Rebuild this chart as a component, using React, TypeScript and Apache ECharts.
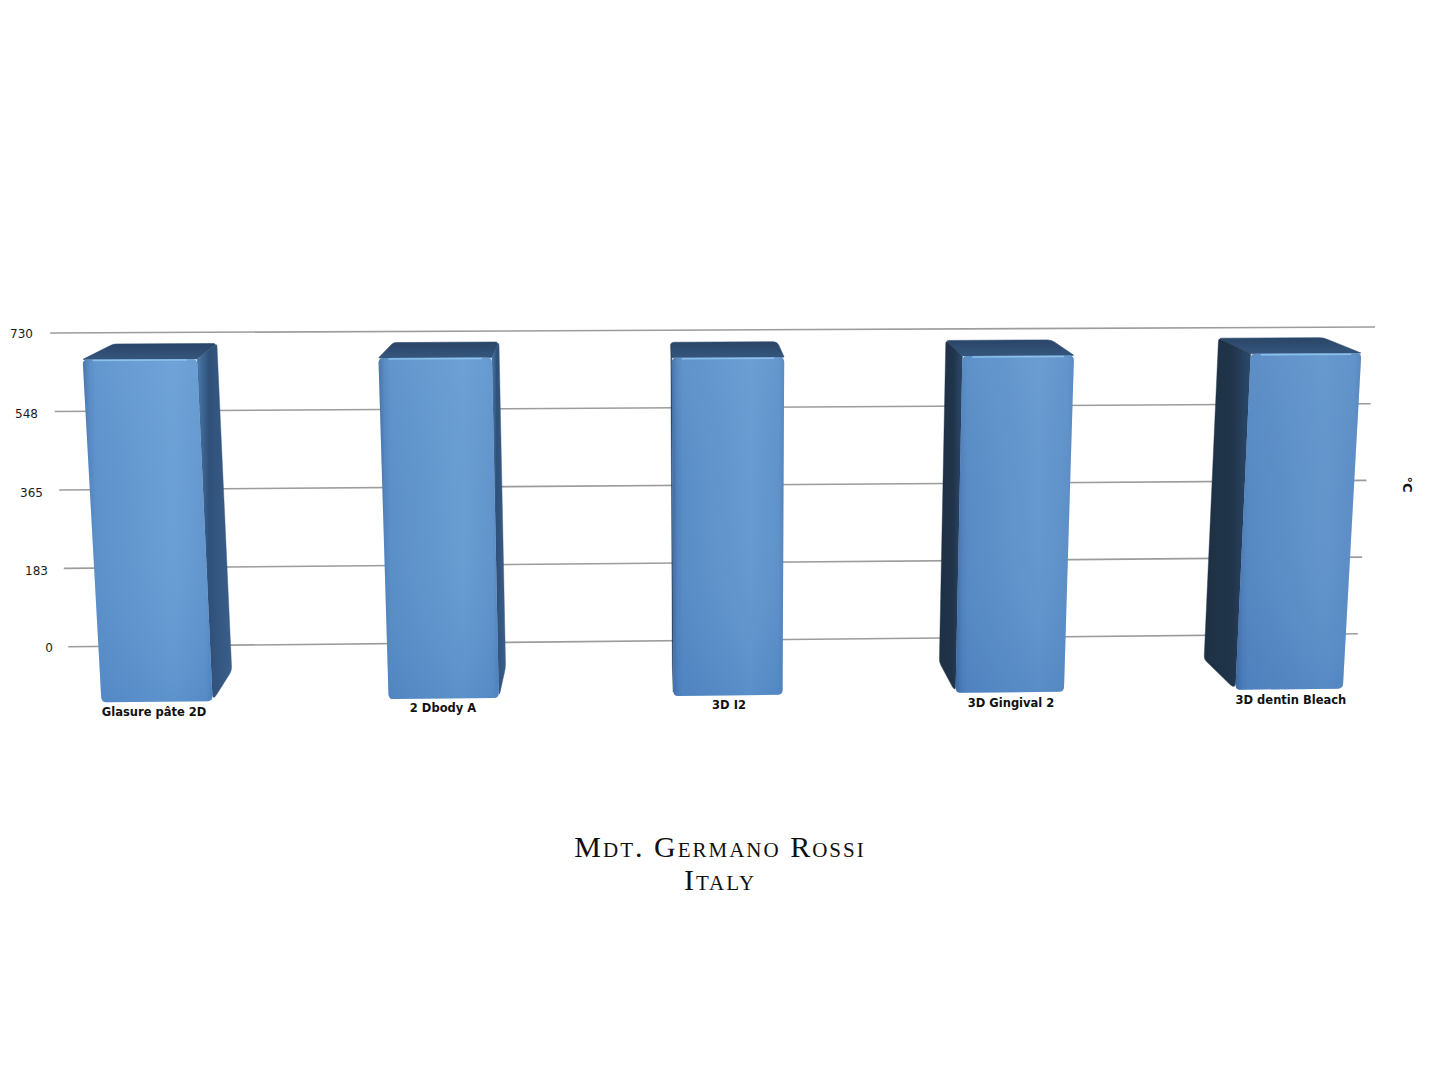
import React, { useEffect, useRef } from "react";
import * as echarts from "echarts";

const CATEGORIES = ["Glasure pâte 2D", "2 Dbody A", "3D I2", "3D Gingival 2", "3D dentin Bleach"];
const VALUES = [668, 668, 665, 666, 668];
const FLOOR_VALUE = -130;
const TICK_VALUES = [0, 182.5, 365, 547.5, 730];
const AXIS_NAME = "°C";
const TITLE_LINES = ["Mdt. Germano Rossi", "Italy"];

// Small per-label nudges: the reference's labels follow its tilted perspective.
const LABEL_SHIFT_X = [0, 4.7, 6.5, 4.3, 0];
const LABEL_SHIFT_Y = [13, 9, 6, 4, 1];
const TICK_SHIFT_Y = [2, 4, 6, 4, 2];

const GRID = { left: 12, right: 7, top: 333, height: 314 };

// Perspective of the picture: maps a flat plot point to the screen.
function project(T: number, Yf: number, cx: number): number[] {
  const a = 291.5 - ((Yf - 360) * 8.5) / 343;
  const sx = cx + 5.5 + (a * T) / (1 + 0.0043 * T);
  const slope = 0.0045 + (0.0056 * (Yf - 333)) / 314;
  return [sx, Yf - (sx - 50) * slope];
}
function toBack(p: number[], Yf: number, k = 1): number[] {
  const dx = -0.054 * (p[0] - 655) * k;
  const dy = -15.5 - (15 * (Yf - 360)) / 343;
  return [p[0] + dx, p[1] + dy];
}
function roundedPath(pts: number[][], radii: number[]): string {
  const n = pts.length;
  let d = "";
  for (let i = 0; i < n; i++) {
    const p = pts[i];
    const prev = pts[(i + n - 1) % n];
    const next = pts[(i + 1) % n];
    const r = radii[i];
    const l1 = Math.hypot(prev[0] - p[0], prev[1] - p[1]) || 1;
    const l2 = Math.hypot(next[0] - p[0], next[1] - p[1]) || 1;
    const a = [p[0] + ((prev[0] - p[0]) * r) / l1, p[1] + ((prev[1] - p[1]) * r) / l1];
    const b = [p[0] + ((next[0] - p[0]) * r) / l2, p[1] + ((next[1] - p[1]) * r) / l2];
    d += `${i === 0 ? "M" : "L"}${a[0]} ${a[1]}Q${p[0]} ${p[1]} ${b[0]} ${b[1]}`;
  }
  return d + "Z";
}
const H = (stops: [number, string][]) =>
  new echarts.graphic.LinearGradient(0, 0, 1, 0, stops.map(([offset, color]) => ({ offset, color })));
const V = (stops: [number, string][]) =>
  new echarts.graphic.LinearGradient(0, 0, 0, 1, stops.map(([offset, color]) => ({ offset, color })));

function renderGridLine(_: any, api: any) {
  const cx = api.coord([2, 0])[0];
  const Yf = api.coord([0, api.value(1)])[1];
  const a = project(-2.297, Yf, cx);
  const b = project(2.236, Yf, cx);
  return {
    type: "line",
    shape: { x1: a[0], y1: a[1], x2: b[0], y2: b[1] },
    style: { stroke: "#9c9c9c", lineWidth: 1.6 },
  };
}

function renderBar(_: any, api: any) {
  const i = api.value(0);
  const band = api.size([1, 0])[0];
  const cx = api.coord([2, 0])[0];
  const top = api.coord([i, api.value(1)]);
  const bottom = api.coord([i, FLOOR_VALUE]);
  const T = (top[0] - cx) / band;
  const hw = 0.193;
  const fTL = project(T - hw, top[1], cx);
  const fTR = project(T + hw, top[1], cx);
  const fBR = project(T + hw, bottom[1], cx);
  const fBL = project(T - hw, bottom[1], cx);
  const rightK = T < 0 ? 0.8 : 1;
  const bTL = toBack(fTL, top[1]);
  const bTR = toBack(fTR, top[1], rightK);
  const bBR = toBack(fBR, bottom[1], rightK);
  const bBL = toBack(fBL, bottom[1]);
  const children: any[] = [];

  children.push({
    type: "path",
    shape: { pathData: roundedPath([fTL, bTL, bTR, fTR], [1, 3, 4, 1]) },
    style: { fill: V([[0, "#2a4567"], [1, "#35567d"]]), stroke: "#2e4c70", lineWidth: 0.6 },
  });
  if (bTL[0] < fTL[0]) {
    children.push({
      type: "path",
      shape: { pathData: roundedPath([bTL, fTL, fBL, bBL], [3, 0, 8, 3]) },
      style: { fill: H([[0, "#1e3043"], [0.6, "#20344a"], [1, "#2c4a6d"]]), stroke: "#20344a", lineWidth: 0.4 },
    });
  }
  if (bTR[0] > fTR[0]) {
    children.push({
      type: "path",
      shape: { pathData: roundedPath([fTR, bTR, bBR, fBR], [0, 3, 4, 8]) },
      style: { fill: H([[0, "#487aab"], [0.35, "#2f5078"], [1, "#3a5f8b"]]), stroke: "#34597f", lineWidth: 0.4 },
    });
  }
  const frontPath = roundedPath([fTL, fTR, fBR, fBL], [5, 5, 5, 5]);
  children.push({
    type: "path",
    shape: { pathData: frontPath },
    style: {
      fill: H([
        [0, "#3c6799"],
        [0.05, "#5284c0"],
        [0.1, "#5b90c9"],
        [0.7, "#6ba0d5"],
        [0.95, "#6296cd"],
        [1, "#5487c0"],
      ]),
    },
  });
  children.push({
    type: "path",
    shape: { pathData: frontPath },
    style: {
      fill: V([
        [0, "rgba(125,175,225,0.25)"],
        [0.45, "rgba(110,160,215,0.05)"],
        [1, "rgba(60,115,185,0.3)"],
      ]),
    },
  });
  children.push({
    type: "path",
    shape: { pathData: frontPath },
    style: { fill: `rgba(50,85,140,${(((T + 2) / 4) * 0.12).toFixed(3)})` },
  });
  children.push({
    type: "line",
    shape: { x1: fTL[0] + 10, y1: fTL[1] + 1, x2: fTR[0] - 10, y2: fTR[1] + 1 },
    style: { stroke: "#8ac0ea", lineWidth: 1.5 },
  });
  return { type: "group", children };
}

export default function App() {
  const ref = useRef<HTMLDivElement>(null);
  useEffect(() => {
    document.body.style.margin = "0";
    document.body.style.background = "#ffffff";
    const chart = echarts.init(ref.current!, null, { renderer: "svg" });
    const yRich: Record<string, any> = {};
    TICK_VALUES.forEach((_, k) => {
      yRich[`t${k}`] = {
        padding: [TICK_SHIFT_Y[k], k * 5, 0, 0],
        fontFamily: "DejaVu Sans",
        fontSize: 12,
        color: "#1c1c1c",
      };
    });
    const xRich: Record<string, any> = {};
    CATEGORIES.forEach((_, k) => {
      xRich[`c${k}`] = {
        padding: [LABEL_SHIFT_Y[k], 0, 0, LABEL_SHIFT_X[k] * 2],
        fontFamily: "DejaVu Sans",
        fontWeight: "bold",
        fontSize: 11.5,
        color: "#111111",
      };
    });
    chart.setOption({
      animation: false,
      backgroundColor: "#ffffff",
      title: {
        text: TITLE_LINES.join("\n"),
        left: 715,
        top: 825,
        textAlign: "center",
        textStyle: {
          fontFamily: "Liberation Serif",
          fontWeight: "normal",
          fontSize: 30,
          lineHeight: 33,
          color: "#111111",
        },
      },
      grid: GRID,
      xAxis: {
        type: "category",
        data: CATEGORIES,
        axisLine: { show: false },
        axisTick: { show: false },
        axisLabel: {
          interval: 0,
          margin: 46,
          formatter: (val: string, idx: number) => `{c${idx}|${val}}`,
          rich: xRich,
        },
      },
      yAxis: [
        {
          type: "value",
          min: 0,
          max: 730,
          interval: 182.5,
          offset: -41,
          axisLine: { show: false },
          axisTick: { show: false },
          splitLine: { show: false },
          axisLabel: {
            margin: 0,
            formatter: (val: number) => `{t${TICK_VALUES.indexOf(val)}|${Math.round(val)}}`,
            rich: yRich,
          },
        },
        {
          type: "value",
          position: "right",
          min: 0,
          max: 730,
          interval: 182.5,
          name: AXIS_NAME,
          nameLocation: "middle",
          nameRotate: -90,
          nameGap: -32,
          nameTextStyle: {
            fontFamily: "DejaVu Sans",
            fontWeight: "bold",
            fontSize: 13,
            color: "#111111",
            padding: [0, 11, 0, 0],
          },
          axisLine: { show: false },
          axisTick: { show: false },
          axisLabel: { show: false },
          splitLine: { show: false },
        },
      ],
      series: [
        {
          type: "custom",
          silent: true,
          z: 1,
          renderItem: renderGridLine,
          data: TICK_VALUES.map((v) => [0, v]),
        },
        {
          type: "custom",
          silent: true,
          z: 2,
          renderItem: renderBar,
          data: VALUES.map((v, i) => [i, v]),
        },
      ],
    });
    return () => chart.dispose();
  }, []);
  return (
    <>
      <style>{`svg text[style*="Liberation Serif"] { font-variant: small-caps; letter-spacing: 2px; }`}</style>
      <div ref={ref} style={{ width: 1440, height: 1080 }} />
    </>
  );
}
